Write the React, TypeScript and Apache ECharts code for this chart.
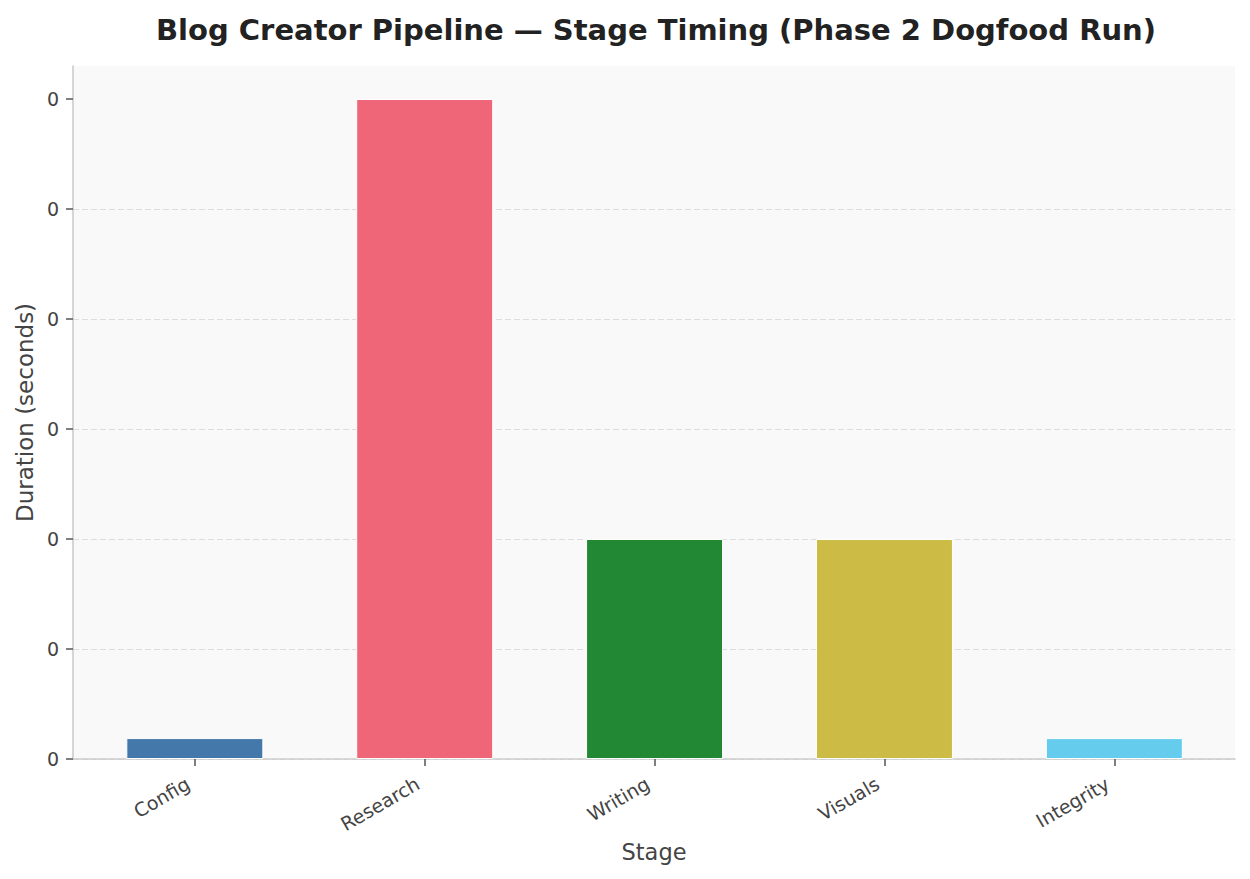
import React, { useEffect, useRef } from "react";
import * as echarts from "echarts";

const stages = ["Config", "Research", "Writing", "Visuals", "Integrity"];
const durations = [0.019, 0.6, 0.2, 0.2, 0.019];
const colors = ["#4477AA", "#EE6677", "#228833", "#CCBB44", "#66CCEE"];
const yTicks = [0, 0.1, 0.2, 0.3, 0.4, 0.5, 0.6];
const xTicks = [0, 1, 2, 3, 4];

const FONT = "DejaVu Sans";

export default function App() {
  const ref = useRef<HTMLDivElement>(null);
  useEffect(() => {
    document.body.style.margin = "0";
    const chart = echarts.init(ref.current!, undefined, { renderer: "svg" });
    chart.setOption({
      animation: false,
      backgroundColor: "#ffffff",
      textStyle: { fontFamily: FONT },
      title: {
        text: "Blog Creator Pipeline — Stage Timing (Phase 2 Dogfood Run)",
        left: 651,
        textAlign: "center",
        top: 10,
        textStyle: { fontFamily: FONT, fontSize: 29, fontWeight: "bold", color: "#222222" },
      },
      grid: {
        left: 73,
        right: 15,
        top: 66,
        bottom: 120,
        show: true,
        backgroundColor: "#f9f9f9",
        borderWidth: 0,
      },
      xAxis: {
        type: "value",
        min: -0.53,
        max: 4.525,
        name: "Stage",
        nameLocation: "middle",
        nameGap: 79,
        nameTextStyle: { fontFamily: FONT, fontSize: 22.5, color: "#444444" },
        axisLine: { show: true, onZero: false, lineStyle: { color: "#cccccc", width: 1.6 } },
        axisTick: { show: true, customValues: xTicks, length: 7, lineStyle: { color: "#555555", width: 1.5 } },
        axisLabel: {
          customValues: xTicks,
          rotate: 30,
          margin: 19,
          padding: [0, 8, 0, 0],
          fontFamily: FONT,
          fontSize: 19,
          color: "#444444",
          formatter: (v: number) => stages[Math.round(v)] ?? "",
        },
        splitLine: { show: false },
      },
      yAxis: {
        type: "value",
        min: 0,
        max: 0.63,
        interval: 0.1,
        name: "Duration (seconds)",
        nameLocation: "middle",
        nameGap: 36,
        nameTextStyle: { fontFamily: FONT, fontSize: 23, color: "#444444" },
        axisLine: { show: true, onZero: false, lineStyle: { color: "#cccccc", width: 1.6 } },
        axisTick: { show: true, customValues: yTicks, length: 7, lineStyle: { color: "#555555", width: 1.5 } },
        axisLabel: {
          customValues: yTicks,
          margin: 14,
          fontFamily: FONT,
          fontSize: 19,
          color: "#444444",
          formatter: (v: number) => String(Math.trunc(v)),
        },
        splitLine: {
          show: true,
          showMaxLine: false,
          lineStyle: { color: "#dddddd", type: [6, 3], width: 1.2 },
        },
      },
      series: [
        {
          type: "bar",
          barWidth: 137,
          data: durations.map((v, i) => ({
            value: [i, v],
            itemStyle: { color: colors[i], borderColor: "#ffffff", borderWidth: 1 },
          })),
        },
      ],
    });
    return () => chart.dispose();
  }, []);
  return <div ref={ref} style={{ width: 1250, height: 879 }} />;
}
